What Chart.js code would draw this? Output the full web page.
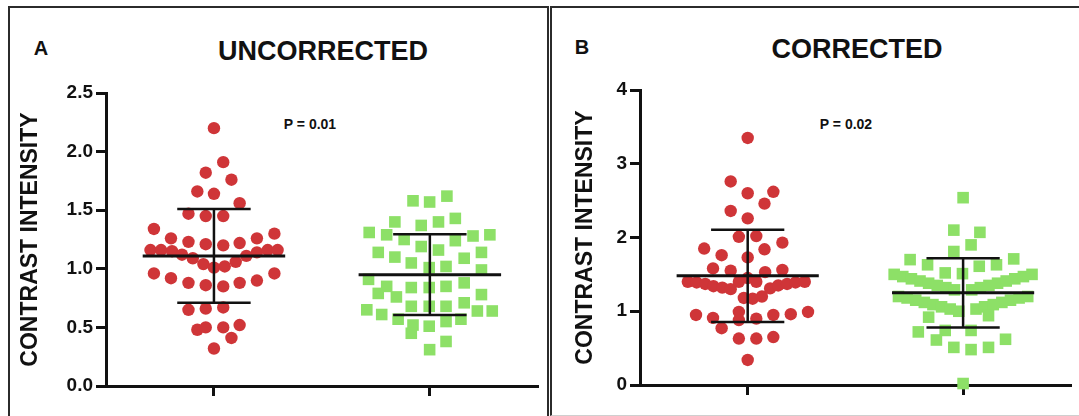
<!DOCTYPE html>
<html>
<head>
<meta charset="utf-8">
<script src="https://cdn.jsdelivr.net/npm/chart.js@4.4.1/dist/chart.umd.min.js"></script>
<style>
  body { margin: 0; width: 1079px; height: 416px; overflow: hidden; background: #fff; position: relative; font-family: "Liberation Sans", Arial, sans-serif; }
  .panel { position: absolute; box-sizing: border-box; border: 2px solid #2b2b2b; border-bottom: none; }
  #panelA { left: 8px; top: 6px; width: 541px; height: 420px; }
  #panelB { left: 550px; top: 6px; width: 540px; height: 410px; border-bottom: 1px solid #cfcfcf; }
  .txt { position: absolute; transform: translate(-50%, -50%); font-weight: bold; color: #111; white-space: nowrap; }
  canvas { position: absolute; }
</style>
</head>
<body>
<div class="panel" id="panelA"></div>
<div class="panel" id="panelB"></div>

<div class="txt" style="left:41px; top:48px; font-size:20px;">A</div>
<div class="txt" style="left:323px; top:51px; font-size:27px;">UNCORRECTED</div>
<div class="txt" style="left:310px; top:124px; font-size:14px;">P = 0.01</div>

<div class="txt" style="left:582px; top:47px; font-size:20px;">B</div>
<div class="txt" style="left:857px; top:49px; font-size:27px;">CORRECTED</div>
<div class="txt" style="left:846px; top:124px; font-size:14px;">P = 0.02</div>

<canvas id="chartA" width="536" height="408" style="left:10px; top:8px;"></canvas>
<canvas id="chartB" width="527" height="408" style="left:552px; top:8px;"></canvas>

<script>
// group positions on the x axis (1 = red group, 2 = green group)
const groupPos = [1, 2]
const xTicks = [1, 2]

// A - uncorrected
const uncorrRedX = [1.000, 1.043, 0.962, 1.081, 0.923, 1.000, 1.119, 0.882, 0.962, 1.043, 0.722, 0.801, 0.882, 0.962, 1.043, 1.119, 1.199, 1.280, 0.706, 0.755, 0.806, 0.852, 0.902, 0.951, 1.000, 1.050, 1.101, 1.150, 1.199, 1.249, 1.295, 0.722, 0.801, 0.882, 0.962, 1.043, 1.119, 1.199, 1.280, 0.882, 0.962, 1.043, 0.923, 0.962, 1.043, 1.119, 1.081, 1.000]
const uncorrRedY = [2.20, 1.91, 1.82, 1.76, 1.66, 1.64, 1.56, 1.47, 1.45, 1.45, 1.34, 1.26, 1.23, 1.21, 1.20, 1.22, 1.26, 1.30, 1.16, 1.16, 1.15, 1.12, 1.09, 1.04, 1.01, 1.02, 1.06, 1.11, 1.14, 1.16, 1.16, 0.96, 0.92, 0.88, 0.86, 0.85, 0.88, 0.90, 0.96, 0.65, 0.66, 0.67, 0.48, 0.50, 0.50, 0.52, 0.41, 0.32]
const uncorrGreenX = [1.922, 1.999, 2.079, 1.838, 1.960, 2.040, 2.118, 1.719, 1.800, 1.881, 2.200, 2.278, 1.960, 2.040, 2.118, 1.761, 1.838, 1.914, 2.159, 2.239, 1.997, 2.075, 2.239, 1.716, 1.800, 1.761, 1.845, 1.914, 1.997, 2.075, 2.159, 2.239, 1.914, 1.997, 2.075, 2.159, 1.708, 1.777, 1.853, 1.922, 1.914, 1.997, 2.075, 2.144, 2.220, 2.289, 1.999, 2.075]
const uncorrGreenY = [1.58, 1.57, 1.62, 1.40, 1.37, 1.40, 1.43, 1.31, 1.29, 1.25, 1.28, 1.29, 1.19, 1.16, 1.24, 1.14, 1.10, 1.05, 1.09, 1.14, 1.01, 1.02, 0.99, 0.91, 0.85, 0.79, 0.76, 0.84, 0.84, 0.85, 0.88, 0.78, 0.68, 0.68, 0.68, 0.71, 0.65, 0.61, 0.57, 0.52, 0.45, 0.51, 0.55, 0.57, 0.64, 0.64, 0.31, 0.38]
const uncorrMean = [1.11, 0.95]
const uncorrSd = [0.40, 0.345]
const uncorrYTicks = [0, 0.5, 1.0, 1.5, 2.0, 2.5]

// B - corrected
const corrRedX = [1.000, 0.921, 1.000, 1.119, 1.078, 0.921, 1.000, 0.959, 1.040, 0.798, 1.161, 1.078, 0.879, 1.000, 0.839, 0.921, 1.081, 1.161, 0.722, 0.763, 0.803, 0.841, 0.882, 0.921, 0.959, 1.040, 1.104, 1.142, 1.183, 1.222, 1.265, 0.982, 1.023, 1.066, 1.000, 0.760, 0.839, 0.959, 0.959, 1.040, 1.119, 1.200, 1.280, 0.879, 0.959, 1.040, 1.119, 1.000]
const corrRedY = [3.35, 2.76, 2.60, 2.62, 2.46, 2.36, 2.26, 2.01, 2.02, 1.85, 1.93, 1.84, 1.76, 1.73, 1.58, 1.55, 1.53, 1.56, 1.40, 1.39, 1.37, 1.34, 1.32, 1.30, 1.40, 1.40, 1.31, 1.35, 1.37, 1.39, 1.40, 1.18, 1.17, 1.20, 1.45, 0.95, 0.91, 0.99, 0.88, 0.90, 0.95, 0.96, 0.99, 0.77, 0.63, 0.63, 0.65, 0.34]
const corrGreenX = [2.000, 1.957, 2.078, 2.037, 1.957, 1.754, 1.835, 2.235, 2.155, 2.075, 1.917, 1.997,
  1.680, 1.720, 1.760, 1.800, 1.840, 1.880, 1.920, 1.960,
  2.040, 2.080, 2.120, 2.160, 2.200, 2.240, 2.280, 2.320,
  1.700, 1.740, 1.780, 1.820, 1.860, 1.900, 1.940, 1.980,
  2.060, 2.100, 2.140, 2.180, 2.220, 2.260, 2.300,
  1.840, 2.118, 1.792, 1.917, 2.037, 1.876, 1.957, 2.037, 2.118, 2.197, 2.000]
const corrGreenY = [2.54, 2.10, 2.07, 1.90, 1.81, 1.70, 1.63, 1.71, 1.63, 1.61, 1.52, 1.51,
  1.50, 1.47, 1.44, 1.41, 1.38, 1.35, 1.32, 1.29,
  1.29, 1.32, 1.35, 1.38, 1.41, 1.44, 1.47, 1.50,
  1.20, 1.18, 1.15, 1.12, 1.09, 1.06, 1.03, 1.00,
  1.03, 1.06, 1.09, 1.12, 1.15, 1.18, 1.20,
  0.92, 0.94, 0.72, 0.74, 0.74, 0.61, 0.51, 0.48, 0.51, 0.62, 0.02]
const corrMean = [1.48, 1.25]
const corrSd = [0.625, 0.47]
const corrYTicks = [0, 1, 2, 3, 4]

const meanHalfWidth = 0.33
const capHalfWidth = 0.17

const RED = '#cf3538'
const GREEN = '#8de067'
const INK = '#111'
const FONT = '"Liberation Sans", Arial, Helvetica, sans-serif'

function points (xs, ys) {
  return xs.map((x, i) => ({ x: x, y: ys[i] }))
}

function meanLines (means) {
  const out = []
  groupPos.forEach((c, i) => {
    out.push({ x: c - meanHalfWidth, y: means[i] }, { x: c + meanHalfWidth, y: means[i] }, { x: c, y: null })
  })
  return out
}

function sdLines (means, sds) {
  const out = []
  groupPos.forEach((c, i) => {
    const hi = means[i] + sds[i]
    const lo = means[i] - sds[i]
    out.push({ x: c - capHalfWidth, y: hi }, { x: c + capHalfWidth, y: hi }, { x: c, y: null })
    out.push({ x: c - capHalfWidth, y: lo }, { x: c + capHalfWidth, y: lo }, { x: c, y: null })
    out.push({ x: c, y: hi }, { x: c, y: lo }, { x: c, y: null })
  })
  return out
}

function makeChart (id, red, green, means, sds, yTicks, opt) {
  const ctx = document.getElementById(id).getContext('2d')
  return new Chart(ctx, {
    type: 'scatter',
    data: {
      datasets: [
        {
          data: meanLines(means),
          showLine: true,
          borderColor: INK,
          borderWidth: 3,
          pointRadius: 0,
          spanGaps: false,
          clip: false,
          order: 0
        },
        {
          data: sdLines(means, sds),
          showLine: true,
          borderColor: INK,
          borderWidth: 2.5,
          pointRadius: 0,
          spanGaps: false,
          clip: false,
          order: 0
        },
        {
          data: red,
          pointStyle: 'circle',
          pointRadius: 6.2,
          backgroundColor: RED,
          borderColor: RED,
          borderWidth: 0,
          clip: false,
          order: 1
        },
        {
          data: green,
          pointStyle: 'rect',
          pointRadius: 8.2,
          backgroundColor: GREEN,
          borderColor: GREEN,
          borderWidth: 0,
          clip: false,
          order: 1
        }
      ]
    },
    options: {
      responsive: false,
      animation: false,
      events: [],
      layout: { padding: { top: opt.padTop, right: opt.padRight, bottom: 0, left: 0 } },
      plugins: { legend: { display: false }, tooltip: { enabled: false } },
      scales: {
        x: {
          type: 'linear',
          min: 0.5,
          max: 2.5,
          afterBuildTicks: (s) => { s.ticks = xTicks.map(v => ({ value: v })) },
          afterFit: (s) => { s.height = opt.xHeight },
          ticks: { display: false },
          grid: { drawOnChartArea: false, drawTicks: true, tickLength: 10, lineWidth: 3, color: INK },
          border: { display: true, width: 3, color: INK }
        },
        y: {
          min: yTicks[0],
          max: yTicks[yTicks.length - 1],
          afterBuildTicks: (s) => { s.ticks = yTicks.map(v => ({ value: v })) },
          afterFit: (s) => { s.width = opt.yWidth },
          ticks: {
            padding: 3,
            color: INK,
            font: { family: FONT, size: 19, weight: 'bold' },
            callback: opt.tickFormat
          },
          grid: { drawOnChartArea: false, drawTicks: true, tickLength: 10, lineWidth: 3, color: INK },
          border: { display: true, width: 3, color: INK },
          title: {
            display: true,
            text: 'CONTRAST INTENSITY',
            color: INK,
            font: { family: FONT, size: 23, weight: 'bold' },
            padding: { top: opt.titlePad, bottom: 0 }
          }
        }
      }
    }
  })
}

makeChart('chartA', points(uncorrRedX, uncorrRedY), points(uncorrGreenX, uncorrGreenY), uncorrMean, uncorrSd, uncorrYTicks, {
  padTop: 85, padRight: 7, xHeight: 30, yWidth: 96, titlePad: 7,
  tickFormat: (v) => Number(v).toFixed(1)
})

makeChart('chartB', points(corrRedX, corrRedY), points(corrGreenX, corrGreenY), corrMean, corrSd, corrYTicks, {
  padTop: 82, padRight: 5, xHeight: 31, yWidth: 88, titlePad: 20,
  tickFormat: (v) => String(v)
})
</script>
</body>
</html>
